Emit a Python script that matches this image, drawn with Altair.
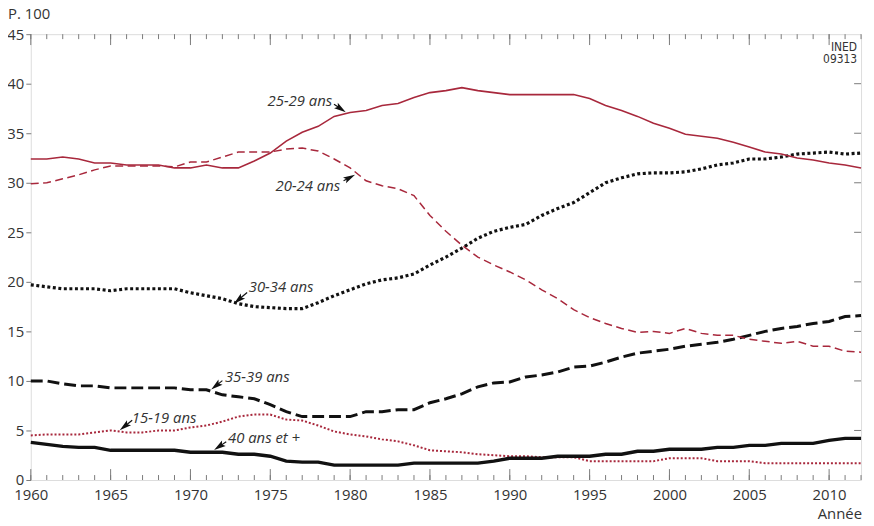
import math
import altair as alt
import pandas as pd

# ---------------- data ----------------
years = list(range(1960, 2013))

s15_19 = [4.5, 4.6, 4.6, 4.6, 4.8, 5.0, 4.8, 4.8, 5.0, 5.0,
          5.3, 5.5, 5.9, 6.4, 6.6, 6.6, 6.1, 6.0, 5.5, 4.9,
          4.6, 4.4, 4.1, 3.9, 3.5, 3.0, 2.9, 2.8, 2.6, 2.5,
          2.4, 2.4, 2.3, 2.3, 2.3, 1.9, 1.9, 1.9, 1.9, 1.9,
          2.2, 2.2, 2.2, 1.9, 1.9, 1.9, 1.7, 1.7, 1.7, 1.7,
          1.7, 1.7, 1.7]
s20_24 = [29.9, 30.0, 30.4, 30.8, 31.3, 31.7, 31.7, 31.7, 31.7, 31.6,
          32.1, 32.1, 32.6, 33.1, 33.1, 33.1, 33.4, 33.5, 33.2, 32.4,
          31.5, 30.2, 29.7, 29.4, 28.7, 26.7, 25.1, 23.7, 22.5, 21.7,
          21.0, 20.2, 19.2, 18.3, 17.2, 16.4, 15.8, 15.3, 14.9, 15.0,
          14.8, 15.3, 14.8, 14.6, 14.6, 14.2, 14.0, 13.8, 14.0, 13.5,
          13.5, 13.0, 12.9]
s25_29 = [32.4, 32.4, 32.6, 32.4, 32.0, 32.0, 31.8, 31.8, 31.8, 31.5,
          31.5, 31.8, 31.5, 31.5, 32.2, 33.0, 34.2, 35.1, 35.7, 36.7,
          37.1, 37.3, 37.8, 38.0, 38.6, 39.1, 39.3, 39.6, 39.3, 39.1,
          38.9, 38.9, 38.9, 38.9, 38.9, 38.5, 37.8, 37.3, 36.7, 36.0,
          35.5, 34.9, 34.7, 34.5, 34.1, 33.6, 33.1, 32.9, 32.5, 32.3,
          32.0, 31.8, 31.5]
s30_34 = [19.7, 19.5, 19.3, 19.3, 19.3, 19.1, 19.3, 19.3, 19.3, 19.3,
          18.9, 18.6, 18.3, 17.8, 17.5, 17.4, 17.3, 17.3, 17.9, 18.6,
          19.2, 19.8, 20.2, 20.4, 20.8, 21.7, 22.5, 23.4, 24.4, 25.1,
          25.5, 25.8, 26.7, 27.4, 28.0, 29.0, 30.0, 30.5, 30.9, 31.0,
          31.0, 31.1, 31.4, 31.8, 32.0, 32.4, 32.4, 32.6, 32.9, 33.0,
          33.1, 32.9, 33.0]
s35_39 = [10.0, 10.0, 9.7, 9.5, 9.5, 9.3, 9.3, 9.3, 9.3, 9.3,
          9.1, 9.1, 8.6, 8.4, 8.2, 7.6, 6.9, 6.4, 6.4, 6.4,
          6.4, 6.9, 6.9, 7.1, 7.1, 7.8, 8.2, 8.7, 9.4, 9.8,
          9.9, 10.4, 10.6, 10.9, 11.4, 11.5, 11.9, 12.4, 12.8, 13.0,
          13.2, 13.5, 13.7, 13.9, 14.2, 14.6, 15.0, 15.3, 15.5, 15.8,
          16.0, 16.5, 16.6]
s40p = [3.8, 3.6, 3.4, 3.3, 3.3, 3.0, 3.0, 3.0, 3.0, 3.0,
        2.8, 2.8, 2.8, 2.6, 2.6, 2.4, 1.9, 1.8, 1.8, 1.5,
        1.5, 1.5, 1.5, 1.5, 1.7, 1.7, 1.7, 1.7, 1.7, 1.9,
        2.2, 2.2, 2.2, 2.4, 2.4, 2.4, 2.6, 2.6, 2.9, 2.9,
        3.1, 3.1, 3.1, 3.3, 3.3, 3.5, 3.5, 3.7, 3.7, 3.7,
        4.0, 4.2, 4.2]

x_ticks_major = [1960, 1965, 1970, 1975, 1980, 1985, 1990, 1995, 2000, 2005, 2010]
y_ticks = [0, 5, 10, 15, 20, 25, 30, 35, 40, 45]

label_text = ["25-29 ans", "20-24 ans", "30-34 ans", "35-39 ans", "15-19 ans", "40 ans et +"]
label_year = [1974.83, 1975.33, 1973.65, 1972.16, 1966.33, 1972.35]
label_val = [38.2, 29.7, 19.5, 10.4, 6.3, 4.2]
arrow_tail_year = [1978.99, 1979.59, 1973.55, 1972.00, 1966.35, 1972.24]
arrow_tail_val = [37.93, 30.20, 18.93, 10.03, 6.03, 3.87]
arrow_head_year = [1979.73, 1980.31, 1972.72, 1971.30, 1965.57, 1971.48]
arrow_head_val = [37.13, 30.80, 17.80, 9.13, 5.03, 3.03]

# ---------------- layout ----------------
W, H = 838, 450
FONT = "Open Sans"
COND = "'Liberation Sans Narrow', 'DejaVu Sans Condensed', 'Roboto Condensed', 'Noto Sans', sans-serif"
TXT = "#333333"
GRAY = "#7a7a7a"
RED = "#a8283c"
BLACK = "#111111"

xs = alt.Scale(domain=[1960, 2012], nice=False, zero=False)
ys = alt.Scale(domain=[0, 45], nice=False, zero=True)
xax = alt.Axis(values=x_ticks_major, format="d", ticks=False, domain=False, grid=False,
               labelFont=FONT, labelFontSize=15, labelColor=TXT, labelPadding=8,
               title=None, labelFlush=False)
yax = alt.Axis(values=y_ticks, ticks=True, tickSize=5, tickColor=GRAY, tickWidth=1,
               domain=False, grid=False, labelFont=FONT, labelFontSize=15,
               labelColor=TXT, labelPadding=2, title=None)

X = lambda f: alt.X(f, type="quantitative", scale=xs, axis=xax)
Y = lambda f: alt.Y(f, type="quantitative", scale=ys, axis=yax)

df = pd.DataFrame({"year": years, "s15": s15_19, "s20": s20_24, "s25": s25_29,
                   "s30": s30_34, "s35": s35_39, "s40": s40p})

all_years = pd.DataFrame({"yr": years})
major_years = pd.DataFrame({"yr": x_ticks_major})
ytk = pd.DataFrame({"v": y_ticks[1:-1]})

layers = []
# inward ticks: bottom and top (minor + major), right side
layers.append(alt.Chart(all_years).mark_rule(color=GRAY, strokeWidth=1).encode(
    x=X("yr"), y=alt.value(H), y2=alt.value(H - 5)))
layers.append(alt.Chart(major_years).mark_rule(color=GRAY, strokeWidth=1).encode(
    x=X("yr"), y=alt.value(H), y2=alt.value(H - 11)))
layers.append(alt.Chart(all_years).mark_rule(color=GRAY, strokeWidth=1).encode(
    x=X("yr"), y=alt.value(0), y2=alt.value(5)))
layers.append(alt.Chart(major_years).mark_rule(color=GRAY, strokeWidth=1).encode(
    x=X("yr"), y=alt.value(0), y2=alt.value(11)))
layers.append(alt.Chart(ytk).mark_rule(color=GRAY, strokeWidth=1).encode(
    y=Y("v"), x=alt.value(W - 7), x2=alt.value(W)))

# series lines
series_style = [
    ("s15", dict(color=RED, strokeWidth=2.0, strokeDash=[2, 2])),
    ("s40", dict(color=BLACK, strokeWidth=3.4)),
    ("s35", dict(color=BLACK, strokeWidth=3.0, strokeDash=[12, 5])),
    ("s30", dict(color=BLACK, strokeWidth=3.2, strokeDash=[3, 2.6])),
    ("s20", dict(color=RED, strokeWidth=1.5, strokeDash=[8, 4.5])),
    ("s25", dict(color=RED, strokeWidth=1.6)),
]
for col, st in series_style:
    layers.append(alt.Chart(df).mark_line(interpolate="linear", **st).encode(
        x=X("year"), y=Y(col)))

# arrows
HEAD = 6.0  # half-length of the arrow head in px
pxy = W / 52.0
pyv = H / 45.0
cx, cy, ang = [], [], []
for tx, ty, hx, hy in zip(arrow_tail_year, arrow_tail_val, arrow_head_year, arrow_head_val):
    dx = (hx - tx) * pxy
    dy = -(hy - ty) * pyv
    L = math.hypot(dx, dy)
    ux, uy = dx / L, dy / L
    cx.append(hx - HEAD * ux / pxy)
    cy.append(hy + HEAD * uy / pyv)
    ang.append(math.degrees(math.atan2(ux, -uy)) % 360)
arr = pd.DataFrame({"tx": arrow_tail_year, "ty": arrow_tail_val,
                    "cx": cx, "cy": cy, "ang": ang})
layers.append(alt.Chart(arr).mark_rule(color=BLACK, strokeWidth=1.2).encode(
    x=X("tx"), y=Y("ty"), x2="cx", y2="cy"))
layers.append(alt.Chart(arr).mark_point(
    shape="M0,-1L0.55,1L0,0.6L-0.55,1Z", filled=True, fill=BLACK, size=(2 * HEAD) ** 2, opacity=1
).encode(x=X("cx"), y=Y("cy"), angle=alt.Angle("ang:Q", scale=None)))

# labels
lab = pd.DataFrame({"t": label_text, "x": label_year, "y": label_val})
layers.append(alt.Chart(lab).mark_text(
    font=FONT, fontSize=15, fontStyle="italic", color=TXT, align="left", baseline="middle"
).encode(x=X("x"), y=Y("y"), text="t:N"))

# free texts
layers.append(alt.Chart(pd.DataFrame({"t": ["P. 100"]})).mark_text(
    font=FONT, fontSize=15, color=TXT, align="left", baseline="alphabetic"
).encode(x=alt.value(-23), y=alt.value(-15), text="t:N"))
layers.append(alt.Chart(pd.DataFrame({"t": ["Année"]})).mark_text(
    font=FONT, fontSize=15, color=TXT, align="right", baseline="alphabetic"
).encode(x=alt.value(W + 1), y=alt.value(H + 39), text="t:N"))
layers.append(alt.Chart(pd.DataFrame({"t": ["INED", "09313"], "dy": [13, 25]})).mark_text(
    font=COND, fontSize=12, color=TXT, align="right", baseline="middle"
).encode(x=alt.value(W - 4), y=alt.Y("dy:Q", scale=None), text="t:N"))

chart = alt.layer(*layers).properties(
    width=W, height=H,
    autosize=alt.AutoSizeParams(type="none"),
    padding={"left": 23, "top": 24, "right": 5, "bottom": 42},
).configure_view(stroke=GRAY, strokeWidth=1).configure(background="white")

chart.save("out.html", embed_options={"renderer": "svg", "actions": False})
